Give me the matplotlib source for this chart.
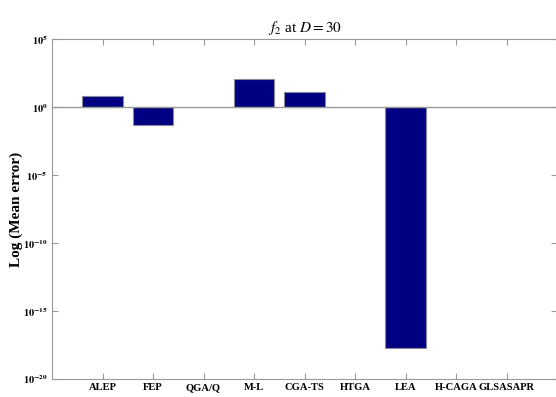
import numpy as np
import matplotlib
matplotlib.use("Agg")
import matplotlib.pyplot as plt

# mean errors (None = no bar drawn)
algos = ["ALEP", "FEP", "QGA/Q", "M-L", "CGA-TS", "HTGA", "LEA", "H-CAGA", "GLSASAPR"]
mean_err = [7.0, 0.046, None, 130.0, 14.0, None, 1.9e-18, None, None]
ytick_vals = [1e-20, 1e-15, 1e-10, 1e-5, 1e0, 1e5]
ytick_labels = ["$\\mathbf{10^{-20}}$", "$\\mathbf{10^{-15}}$", "$\\mathbf{10^{-10}}$",
                "$\\mathbf{10^{-5}}$", "$\\mathbf{10^{0}}$", "$\\mathbf{10^{5}}$"]

plt.rcParams["font.family"] = "Liberation Serif"
plt.rcParams["mathtext.fontset"] = "stix"

fig = plt.figure(figsize=(5.56, 3.97), dpi=100)
ax = fig.add_axes([52 / 556, 18 / 397, 505 / 556, 339.7 / 397])

x = np.arange(1, len(algos) + 1)
for xi, v in zip(x, mean_err):
    if v is None:
        continue
    # bars grow from 10^0 up or down
    lo = min(v, 1.0)
    hi = max(v, 1.0)
    ax.bar(xi, hi - lo, bottom=lo, width=0.8, color="#000080", edgecolor="#8a8a9a", linewidth=0.8)

ax.axhline(1, color="#999999", linewidth=1)
ax.set_yscale("log")
ax.set_ylim(1e-20, 1e5)
ax.set_xlim(0, 10)
ax.set_xticks(x)
ax.set_xticklabels(algos, fontsize=7.6, fontweight="bold")
ax.set_yticks(ytick_vals)
ax.set_yticklabels(ytick_labels, fontsize=7.5)
ax.minorticks_off()
ax.tick_params(direction="in", top=True, right=True, length=4, color="#999999", pad=3)
for s in ax.spines.values():
    s.set_color("#999999")

ax.set_ylabel("Log (Mean error)", fontsize=11, fontweight="bold")
ax.yaxis.set_label_coords(-0.058, 0.5)
ax.set_title("$f_2$ at $D = 30$", fontsize=11, pad=5)

fig.savefig("out.png", dpi=100)
